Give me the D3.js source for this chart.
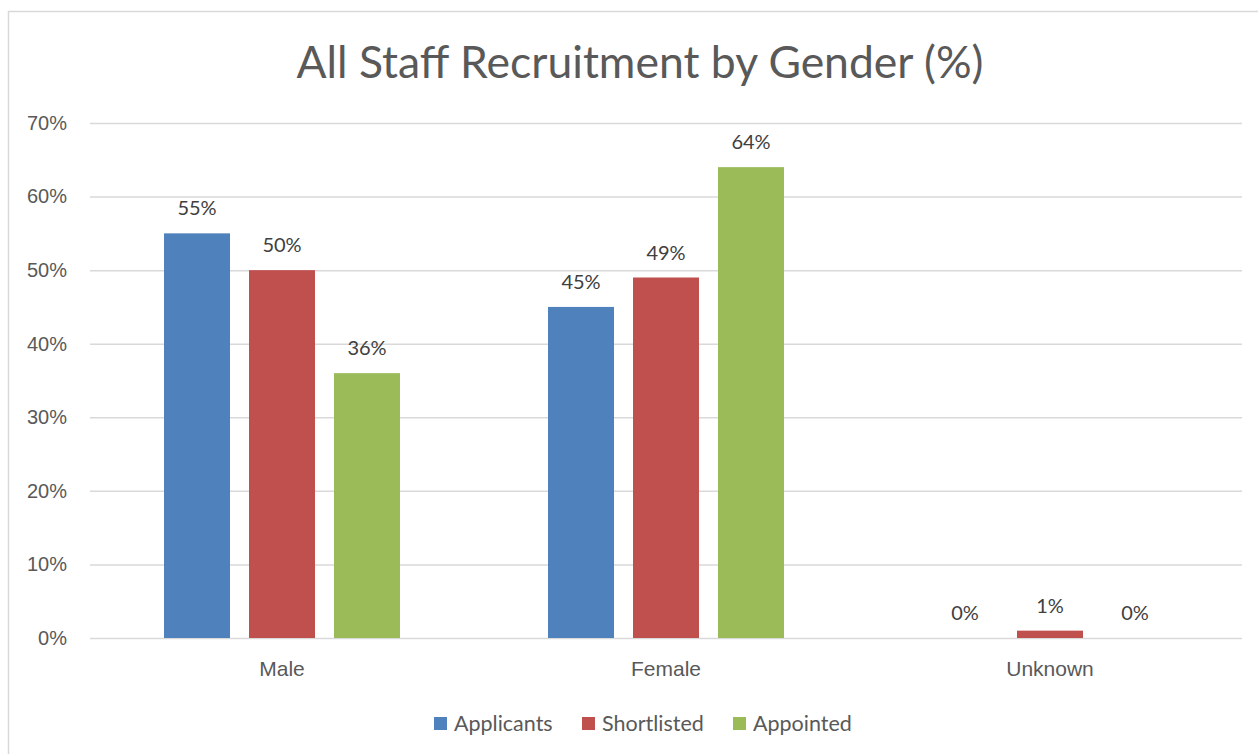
<!DOCTYPE html>
<html>
<head>
<meta charset="utf-8">
<script src="https://cdn.jsdelivr.net/npm/d3@7"></script>
<style>
  body { margin: 0; background: #fff; }
  svg { display: block; font-family: Lato, "Noto Sans", sans-serif; }
</style>
</head>
<body>
<div id="chart"></div>
<script>
var categories = ["Male", "Female", "Unknown"];
var seriesNames = ["Applicants", "Shortlisted", "Appointed"];
var applicants = [55, 45, 0];
var shortlisted = [50, 49, 1];
var appointed = [36, 64, 0];
var yTicks = [0, 10, 20, 30, 40, 50, 60, 70];
var colorList = ["#4F81BD", "#C0504D", "#9BBB59"];

var width = 1258, height = 754;
var margin = {left: 90, right: 16, top: 123, bottom: 116};

var svg = d3.select("#chart").append("svg")
    .attr("width", width).attr("height", height);

// chart frame
svg.append("rect")
    .attr("x", 8.5).attr("y", 11.5)
    .attr("width", 1300).attr("height", 800)
    .attr("fill", "none").attr("stroke", "#d9d9d9").attr("stroke-width", 1.5);

var values = [applicants, shortlisted, appointed];
var rows = categories.map((c, i) => ({
    cat: c,
    vals: seriesNames.map((s, j) => ({series: s, value: values[j][i]}))
}));

var x0 = d3.scaleBand()
    .domain(categories)
    .range([margin.left, width - margin.right]);
var groupInner = 236;
var x1 = d3.scaleBand()
    .domain(seriesNames)
    .range([0, groupInner])
    .paddingInner(19 / 85);
var y = d3.scaleLinear()
    .domain([0, 70])
    .range([height - margin.bottom, margin.top]);
var color = d3.scaleOrdinal().domain(seriesNames).range(colorList);

// gridlines + y labels
var yaxis = svg.append("g")
    .attr("class", "yaxis")
    .attr("transform", "translate(" + margin.left + ",0)")
    .call(d3.axisLeft(y).tickValues(yTicks).tickFormat(d => d + "%")
        .tickSize(-(width - margin.left - margin.right)).tickPadding(23));
yaxis.select(".domain").remove();
yaxis.selectAll("line").attr("stroke", "#d9d9d9").attr("stroke-width", 1.5);
yaxis.selectAll("text").attr("fill", "#595959").style("font-size", "20px");

// x labels
svg.append("g")
    .attr("class", "xaxis")
    .attr("transform", "translate(0," + (height - margin.bottom) + ")")
    .call(d3.axisBottom(x0).tickSize(0).tickPadding(23))
    .call(g => g.select(".domain").remove())
    .selectAll("text").attr("fill", "#595959").style("font-size", "21px");

var groups = svg.selectAll("g.grp")
    .data(rows)
    .join("g").attr("class", "grp")
    .attr("transform", d => "translate(" + (x0(d.cat) + (x0.bandwidth() - groupInner) / 2) + ",0)");

groups.selectAll("rect")
    .data(d => d.vals)
    .join("rect")
    .attr("x", d => x1(d.series))
    .attr("y", d => y(d.value))
    .attr("width", x1.bandwidth())
    .attr("height", d => y(0) - y(d.value))
    .attr("fill", d => color(d.series));

groups.selectAll("text")
    .data(d => d.vals)
    .join("text")
    .attr("x", d => x1(d.series) + x1.bandwidth() / 2)
    .attr("y", d => y(d.value) - 18)
    .attr("text-anchor", "middle")
    .attr("fill", "#404040")
    .style("font-size", "20px")
    .text(d => d.value + "%");

// title
svg.append("text")
    .attr("x", 640).attr("y", 78)
    .attr("text-anchor", "middle")
    .attr("fill", "#595959")
    .style("font-size", "44.5px")
    .text("All Staff Recruitment by Gender (%)");

// legend
var legendX = [434, 582, 733];
var legend = svg.selectAll("g.legend")
    .data(seriesNames)
    .join("g").attr("class", "legend")
    .attr("transform", (d, i) => "translate(" + legendX[i] + ",717)");
legend.append("rect")
    .attr("width", 13).attr("height", 13)
    .attr("fill", d => color(d));
legend.append("text")
    .attr("x", 20).attr("y", 13.5)
    .attr("fill", "#595959")
    .style("font-size", "21.5px")
    .text(d => d);
</script>
</body>
</html>
